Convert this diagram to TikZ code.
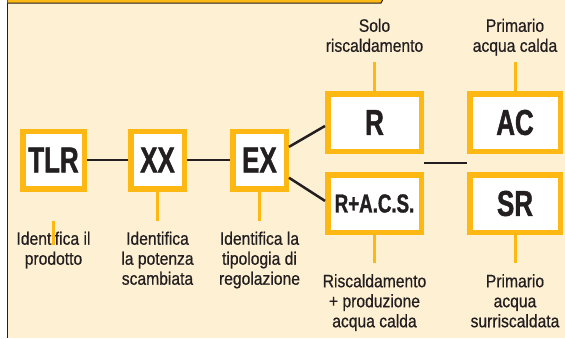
\documentclass[tikz,border=0pt]{standalone}
\usepackage{fontspec}
\setmainfont{Liberation Sans}[FakeStretch=0.87,FakeBold=0.6]
\newfontfamily\codefont{Liberation Sans}[FakeStretch=0.72,FakeBold=1.2]
\usetikzlibrary{positioning,calc}
\definecolor{gold}{HTML}{FDB813}
\definecolor{cream}{HTML}{FEF0D3}
\definecolor{ink}{HTML}{231F20}

\begin{document}
\begin{tikzpicture}[x=1pt,y=-1pt]
        \useasboundingbox (0,0) rectangle (565,338);
        \clip (0,0) rectangle (565,338);
        % background and frame
        \fill[cream] (8,0) rectangle (565,338);
        \draw[ink,line width=1.5pt] (7.5,0) -- (7.5,338);
        \draw[fill=gold,draw=ink,line width=1pt] (7.5,-6) -- (386,-6) -- (381,3) -- (7.5,3);
        \tikzstyle{code} = [draw=gold,line width=5.5pt,fill=white,inner sep=0pt,
          minimum height=57.5pt,text=ink,font=\codefont\fontsize{36}{36}\selectfont\bfseries]
        \tikzstyle{note} = [align=center,inner xsep=0pt,inner ysep=11pt,text=ink,
          font=\fontsize{18}{20}\selectfont,execute at begin node=\strut,execute at end node=\strut]
        \tikzstyle{topnote} = [note,inner ysep=4pt]
        \tikzstyle{link} = [ink,line width=2.5pt]
        \tikzstyle{tick} = [gold,line width=3pt]
        % boxes
        \node[code,minimum width=61.5pt] (tlr) at (53.5,160) {TLR};
        \node[code,minimum width=53.5pt,right=41pt of tlr] (xx) {XX};
        \node[code,minimum width=53.5pt,right=43pt of xx] (ex) {EX};
        \node[code,minimum width=93.5pt] (r) at (374.5,122.5) {R};
        \node[code,minimum width=93.5pt,below=18pt of r,
          font=\codefont\fontsize{26}{26}\selectfont\bfseries] (racs) {R+A.C.S.};
        \node[code,minimum width=90.5pt,right=43pt of r] (ac) {AC};
        \node[code,minimum width=90.5pt,right=43pt of racs] (sr) {SR};
        % notes
        \node[note,below=29pt of tlr] (tlrnote) {Identifica il\\prodotto};
        \node[note,below=29pt of xx] (xxnote) {Identifica\\la potenza\\scambiata};
        \node[note,below=29pt of ex] (exnote) {Identifica la\\tipologia di\\regolazione};
        \node[topnote,above=29pt of r] (rnote) {Solo\\riscaldamento};
        \node[topnote,above=29pt of ac] (acnote) {Primario\\acqua calda};
        \node[note,below=28pt of racs] (racsnote) {Riscaldamento\\+ produzione\\acqua calda};
        \node[note,below=28pt of sr] (srnote) {Primario\\acqua\\surriscaldata};
        \coordinate (midl) at ($(r.south east)!.5!(racs.north east)$);
        \coordinate (midr) at ($(ac.south west)!.5!(sr.north west)$);
        \coordinate (tlrtick) at ($(tlrnote.north)+(0,24)$);
        % links
        \draw[link] (tlr) -- (xx);
        \draw[link] (xx) -- (ex);
        \draw[link] (ex.24) -- (r.184);
        \draw[link] (ex.-31) -- (racs.177);
        \draw[link] (midl) -- (midr);
        % ticks
        \draw[tick] (xx) -- (xxnote);
        \draw[tick] (ex) -- (exnote);
        \draw[tick] (rnote) -- (r);
        \draw[tick] (acnote) -- (ac);
        \draw[tick] (racs) -- (racsnote);
        \draw[tick] (sr) -- (srnote);
        \draw[tick] (tlrnote.north) -- (tlrtick);
      \end{tikzpicture}
\end{document}
